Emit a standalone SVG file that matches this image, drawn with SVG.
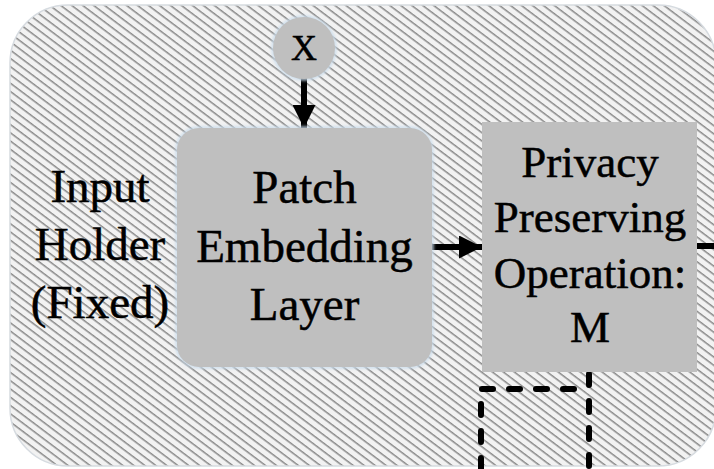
<svg xmlns="http://www.w3.org/2000/svg" width="714" height="469" viewBox="0 0 714 469">
  <defs>
    <!-- diagonal hatch used for the enclosing panel -->
    <pattern id="hatch" patternUnits="userSpaceOnUse" width="20" height="6.6" patternTransform="rotate(37)">
      <rect x="0" y="0" width="20" height="6.6" fill="#f2f2f2"/>
      <rect x="0" y="0" width="20" height="1.5" fill="#8a8a8a"/>
    </pattern>
    <marker id="arrow" viewBox="0 0 10 10" refX="10" refY="5" markerUnits="userSpaceOnUse" markerWidth="23" markerHeight="23" orient="auto">
      <path d="M0,0 L10,5 L0,10 Z" fill="#000"/>
    </marker>
    <filter id="glow" x="-10%" y="-10%" width="120%" height="120%">
      <feGaussianBlur stdDeviation="1.5"/>
    </filter>
  </defs>
  <style>
    .label { font-family: "Liberation Serif", "Times New Roman", serif; fill: #000; stroke: #000; stroke-width: 0.5; text-anchor: middle; }
    .box { fill: #bfbfbf; }
    .halo { fill: none; stroke: #c9dcec; stroke-width: 3; filter: url(#glow); }
    .flow { stroke: #000; stroke-width: 6; fill: none; }
    .dash { stroke: #000; stroke-width: 6; fill: none; stroke-linecap: round; stroke-dasharray: 11 16; }
  </style>

  <rect width="714" height="469" fill="#ffffff"/>

  <!-- enclosing panel -->
  <g id="panel">
    <rect x="10" y="5" width="706" height="461" rx="58" ry="58" fill="url(#hatch)" stroke="#d6dbe0" stroke-width="1.5"/>
  </g>

  <!-- connectors -->
  <g id="connectors">
    <line class="flow" x1="304" y1="78" x2="304" y2="128" marker-end="url(#arrow)"/>
    <line class="flow" x1="432" y1="247" x2="482" y2="247" marker-end="url(#arrow)"/>
    <line class="flow" x1="697" y1="246" x2="716" y2="246" stroke-linecap="round"/>
    <path class="dash" d="M589,374 V469"/>
    <path class="dash" d="M481,469 V389 H589"/>
  </g>

  <g id="input-x">
    <circle class="halo" cx="304" cy="48" r="31"/>
    <circle cx="304" cy="48" r="31" fill="#bfbfbf"/>
    <text class="label" x="304" y="60" font-size="36">X</text>
  </g>

  <g id="input-holder">
    <text class="label" x="100" y="202" font-size="47">Input</text>
    <text class="label" x="100" y="260" font-size="47">Holder</text>
    <text class="label" x="100" y="318" font-size="47">(Fixed)</text>
  </g>

  <g id="patch-embedding">
    <rect class="halo" x="177" y="128" width="255" height="239" rx="22"/>
    <rect class="box" x="177" y="128" width="255" height="239" rx="22"/>
    <text class="label" x="304.5" y="203" font-size="47">Patch</text>
    <text class="label" x="304.5" y="262" font-size="47">Embedding</text>
    <text class="label" x="304.5" y="320" font-size="47">Layer</text>
  </g>

  <g id="privacy-op">
    <rect class="box" x="482" y="122" width="215" height="250"/>
    <text class="label" x="590" y="177" font-size="45">Privacy</text>
    <text class="label" x="590" y="232" font-size="45">Preserving</text>
    <text class="label" x="590" y="288" font-size="45">Operation:</text>
    <text class="label" x="590" y="342" font-size="45">M</text>
  </g>
</svg>
